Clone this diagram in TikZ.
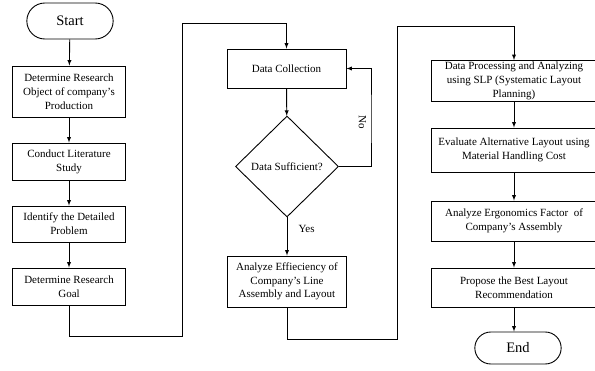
\documentclass[tikz,border=0pt]{standalone}
\usepackage{fontspec}
\setmainfont{Liberation Serif}
\usetikzlibrary{shapes.geometric,shapes.misc}

\begin{document}
\begin{tikzpicture}[x=1pt,y=-1pt,
    box/.style={draw, line width=0.9pt, align=center, inner sep=1pt, font=\fontsize{11}{13.8}\selectfont},
    term/.style={draw, rounded rectangle, line width=0.9pt, minimum width=93pt, font=\fontsize{14.5}{16}\selectfont},
    decide/.style={draw, diamond, line width=0.9pt, minimum width=103pt, minimum height=101pt, inner sep=0pt, font=\fontsize{11}{13.8}\selectfont},
    flow/.style={-latex, line width=0.9pt},
    label/.style={font=\fontsize{11}{13.8}\selectfont}]
\useasboundingbox (0,0) rectangle (595,370);

    % left column
    \node[term, minimum height=36pt] (start) at (70,21) {Start};
    \node[box, minimum width=113pt, minimum height=51pt] (object) at (69,91.5) {Determine Research\\Object of company's\\Production};
    \node[box, minimum width=113pt, minimum height=37pt] (study) at (69,161.5) {Conduct Literature\\Study};
    \node[box, minimum width=113pt, minimum height=36pt] (problem) at (69,224) {Identify the Detailed\\Problem};
    \node[box, minimum width=113pt, minimum height=37pt] (goal) at (69,286.5) {Determine Research\\Goal};

    % middle column
    \node[box, minimum width=119pt, minimum height=39pt] (collect) at (286.5,68.5) {Data Collection};
    \node[decide] (enough) at (287,166.5) {Data Sufficient?};
    \node[box, minimum width=119pt, minimum height=51pt] (efficiency) at (287,281.5) {Analyze Effieciency of\\Company's Line\\Assembly and Layout};

    % right column
    \node[box, minimum width=166pt, minimum height=41pt] (slp) at (514,81) {Data Processing and Analyzing\\using SLP (Systematic Layout\\Planning)};
    \node[box, minimum width=166pt, minimum height=44pt] (cost) at (514,150) {Evaluate Alternative Layout using\\Material Handling Cost};
    \node[box, minimum width=166pt, minimum height=40pt] (ergo) at (514,221) {Analyze Ergonomics Factor\ \ of\\Company's Assembly};
    \node[box, minimum width=166pt, minimum height=39pt] (propose) at (514,287.5) {Propose the Best Layout\\Recommendation};
    \node[term, minimum height=32pt] (end) at (518,348) {End};

    % turning points
    \coordinate (g1) at (182,336);
    \coordinate (g2) at (182,23);
    \coordinate (n1) at (371,120);
    \coordinate (e1) at (397,339);
    \coordinate (e2) at (397,26);

    % connectors
    \draw[flow] (start) -- (object);
    \draw[flow] (object) -- (study);
    \draw[flow] (study) -- (problem);
    \draw[flow] (problem) -- (goal);
    \draw[flow] (goal.south) |- (g1) -- (g2) -| (collect.north);
    \draw[flow] (collect) -- (enough);
    \draw[flow] (enough) -- (efficiency);
    \draw[flow] (enough.east) -| (n1) |- (collect.east);
    \draw[flow] (efficiency.south) |- (e1) -- (e2) -| (slp.north);
    \draw[flow] (slp) -- (cost);
    \draw[flow] (cost) -- (ergo);
    \draw[flow] (ergo) -- (propose);
    \draw[flow] (propose.south) -- (end.north -| propose.south);

    % labels
    \node[label, rotate=-90] (no) at (362.5,122) {No};
    \node[label, anchor=west] (yes) at (295,229) {Yes};

\end{tikzpicture}
\end{document}
